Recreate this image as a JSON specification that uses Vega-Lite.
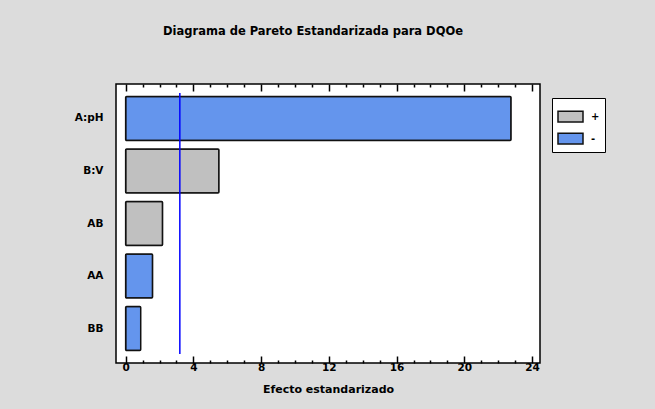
{
  "$schema": "https://vega.github.io/schema/vega-lite/v6.json",
  "autosize": {"type": "none"},
  "width": 424,
  "height": 279,
  "padding": {"left": 116, "top": 84, "right": 115, "bottom": 46},
  "background": "#dcdcdc",
  "title": {
    "text": "Diagrama de Pareto Estandarizada para DQOe",
    "font": "DejaVu Sans",
    "fontSize": 11.5,
    "fontWeight": "bold",
    "color": "#000",
    "offset": 46,
    "anchor": "middle",
    "dx": -15
  },
  "config": {
    "view": {"stroke": "#000", "strokeWidth": 1.5, "fill": "white"},
    "font": "DejaVu Sans"
  },
  "datasets": {
    "effects": [
      {"term": "A:pH", "effect": 22.76, "sign": "-"},
      {"term": "B:V", "effect": 5.51, "sign": "+"},
      {"term": "AB", "effect": 2.18, "sign": "+"},
      {"term": "AA", "effect": 1.59, "sign": "-"},
      {"term": "BB", "effect": 0.89, "sign": "-"}
    ],
    "ref": [
      {"t": 3.2, "from": "A:pH", "to": "BB"}
    ]
  },
  "layer": [
    {
      "data": {"name": "effects"},
      "mark": {"type": "bar", "stroke": "#111", "strokeWidth": 1.5, "cornerRadius": 1},
      "encoding": {
        "y": {
          "field": "term",
          "type": "nominal",
          "sort": null,
          "scale": {"domain": ["A:pH", "B:V", "AB", "AA", "BB"], "paddingInner": 0.16, "paddingOuter": 0.237},
          "axis": {
            "title": null,
            "ticks": false,
            "domain": false,
            "labelFont": "DejaVu Sans",
            "labelFontSize": 10.5,
            "labelFontWeight": "bold",
            "labelColor": "#000",
            "labelPadding": 13
          }
        },
        "x": {
          "field": "effect",
          "type": "quantitative",
          "scale": {"domain": [-0.57, 24.47], "nice": false, "zero": false},
          "axis": {
            "orient": "bottom",
            "title": "Efecto estandarizado",
            "values": [0,1,2,3,4,5,6,7,8,9,10,11,12,13,14,15,16,17,18,19,20,21,22,23,24],
            "labelExpr": "datum.value % 4 === 0 ? datum.label : ''",
            "tickSize": {"condition": {"test": "datum.value % 4 === 0", "value": -7}, "value": -3},
            "tickColor": "#000",
            "tickWidth": 1.5,
            "domain": false,
            "grid": false,
            "labelFont": "DejaVu Sans",
            "labelFontSize": 10.5,
            "labelFontWeight": "bold",
            "labelColor": "#000",
            "labelPadding": 6,
            "labelFlush": false,
            "labelOverlap": false,
            "titleFont": "DejaVu Sans",
            "titleFontSize": 11,
            "titleFontWeight": "bold",
            "titleColor": "#000",
            "titlePadding": 7
          }
        },
        "fill": {
          "field": "sign",
          "type": "nominal",
          "scale": {"domain": ["+", "-"], "range": ["#c0c0c0", "#6495ed"]},
          "legend": {
            "title": null,
            "orient": "none",
            "legendX": 436,
            "legendY": 14,
            "strokeColor": "#000",
            "fillColor": "white",
            "padding": 5,
            "symbolType": "M-1,-0.43H1V0.43H-1Z",
            "symbolSize": 625,
            "symbolStrokeColor": "#111",
            "symbolStrokeWidth": 1.5,
            "labelFont": "DejaVu Sans",
            "labelFontSize": 10,
            "labelFontWeight": "bold",
            "labelColor": "#000",
            "labelOffset": 7,
            "rowPadding": -8
          }
        }
      }
    },
    {
      "data": {"name": "ref"},
      "mark": {"type": "rule", "color": "#0000ff", "strokeWidth": 1.5},
      "encoding": {
        "x": {
          "field": "t",
          "type": "quantitative",
          "axis": {
            "orient": "top",
            "title": null,
            "values": [0,1,2,3,4,5,6,7,8,9,10,11,12,13,14,15,16,17,18,19,20,21,22,23,24],
            "labels": false,
            "domain": false,
            "grid": false,
            "tickSize": {"condition": {"test": "datum.value % 4 === 0", "value": -7}, "value": -3},
            "tickColor": "#000",
            "tickWidth": 1.5
          }
        },
        "y": {"field": "from", "type": "nominal", "bandPosition": -0.08},
        "y2": {"field": "to", "bandPosition": 1.08}
      }
    }
  ],
  "resolve": {"axis": {"x": "independent"}}
}
